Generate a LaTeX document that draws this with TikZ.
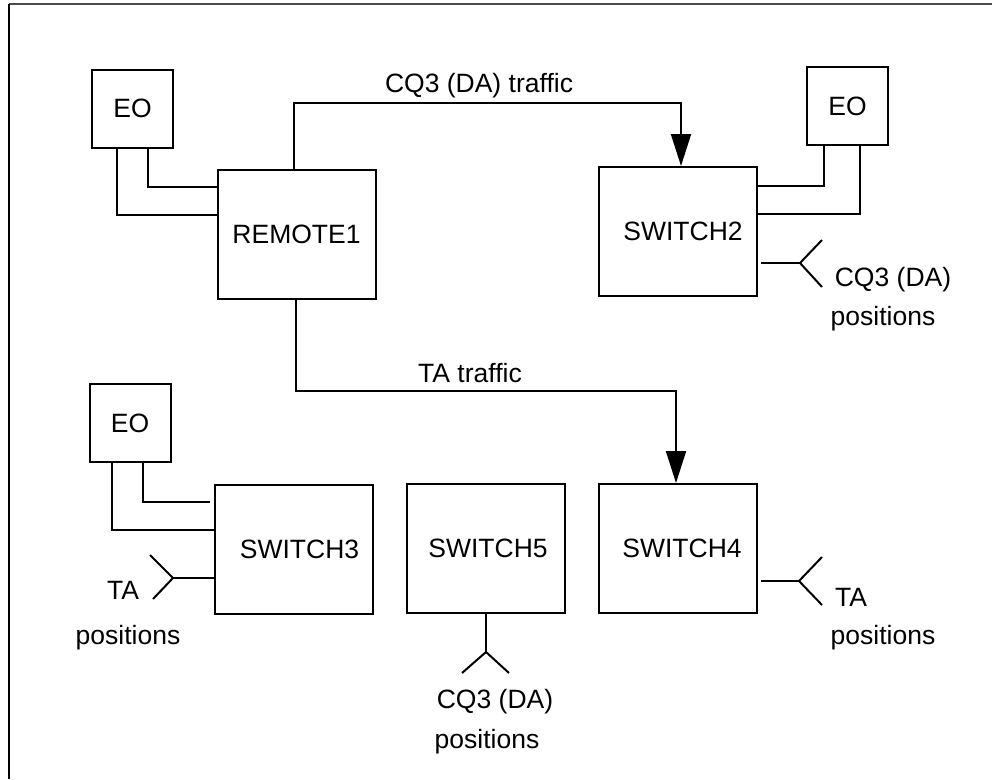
\documentclass[tikz,border=0pt]{standalone}
\usepackage{fontspec}
\setmainfont{Liberation Sans}
\usetikzlibrary{arrows.meta}
\begin{document}
\begin{tikzpicture}[x=1pt,y=-1pt,
  every node/.style={font=\fontsize{26.5}{31}\selectfont, inner sep=0pt},
  box/.style={draw, line width=2pt, rectangle},
  eobox/.style={box, minimum width=81pt, minimum height=78pt},
  swbox/.style={box, minimum width=158pt, minimum height=129pt},
  wire/.style={line width=2pt},
  traffic/.style={wire, -{Triangle[length=32pt,width=20pt]}},
  txt/.style={anchor=center}
]
\useasboundingbox (0,0) rectangle (992,779);
% partial frame
\draw[line width=1.5pt, black!70] (9,4) -- (992,4);
\draw[line width=1.5pt, black] (9,4) -- (9,779);

% boxes
\node[eobox] (eo1) at (132.5,108.5) {EO};
\node[swbox] (remote1) at (296.5,234) {REMOTE1};
\node[eobox] (eo2) at (847.5,106) {EO};
\node[swbox] (switch2) at (678,231.5) {\hspace*{10pt}SWITCH2};
\node[eobox] (eo3) at (130,423) {EO};
\node[swbox] (switch3) at (293.5,549) {\hspace*{12pt}SWITCH3};
\node[swbox] (switch5) at (486,548.5) {\hspace*{4pt}SWITCH5};
\node[swbox] (switch4) at (678,548.5) {\hspace*{8pt}SWITCH4};

% EO1 - REMOTE1
\draw[wire] (eo1.south -| 117,0) |- (remote1.west |- 0,215);
\draw[wire] (eo1.south -| 148,0) |- (remote1.west |- 0,187);
% EO2 - SWITCH2
\draw[wire] (eo2.south -| 824,0) |- (switch2.east |- 0,186);
\draw[wire] (eo2.south -| 860,0) |- (switch2.east |- 0,214);
% EO3 - SWITCH3
\draw[wire] (eo3.south -| 112,0) |- (switch3.west |- 0,530);
\draw[wire, shorten >=4pt] (eo3.south -| 143,0) |- (switch3.west |- 0,502);

% traffic
\draw[traffic] (remote1.north -| 294,0) |- (681,103) -- (switch2.north -| 681,0);
\node[txt] (cqtraffic) at (479,86) {CQ3 (DA) traffic};
\draw[traffic] (remote1.south -| 296,0) |- (676,391) -- (switch4.north -| 676,0);
\node[txt] (tatraffic) at (470,373) {TA traffic};

% SWITCH2 antenna
\coordinate (f2) at (800,263);
\draw[wire, shorten <=3pt] (switch2.east |- f2) -- (f2);
\draw[wire] (f2) -- (822,240);
\draw[wire] (f2) -- (822,287);
\node[txt] (l2a) at (893,280) {CQ3 (DA)};
\node[txt] (l2b) at (883,319) {positions};

% SWITCH3 antenna
\coordinate (f3) at (173,578);
\draw[wire] (switch3.west |- f3) -- (f3);
\draw[wire] (f3) -- (150,555);
\draw[wire] (f3) -- (153,599);
\node[txt] (l3a) at (123,590) {TA};
\node[txt] (l3b) at (128,638) {positions};

% SWITCH5 antenna
\coordinate (f5) at (486,652);
\draw[wire] (switch5.south) -- (f5);
\draw[wire] (f5) -- (462,673);
\draw[wire] (f5) -- (509,673);
\node[txt] (l5a) at (495,702) {CQ3 (DA)};
\node[txt] (l5b) at (487,742) {positions};

% SWITCH4 antenna
\coordinate (f4) at (799,581);
\draw[wire, shorten <=3pt] (switch4.east |- f4) -- (f4);
\draw[wire] (f4) -- (822,557);
\draw[wire] (f4) -- (822,605);
\node[txt] (l4a) at (851,597) {TA};
\node[txt] (l4b) at (883,638) {positions};
\end{tikzpicture}
\end{document}
